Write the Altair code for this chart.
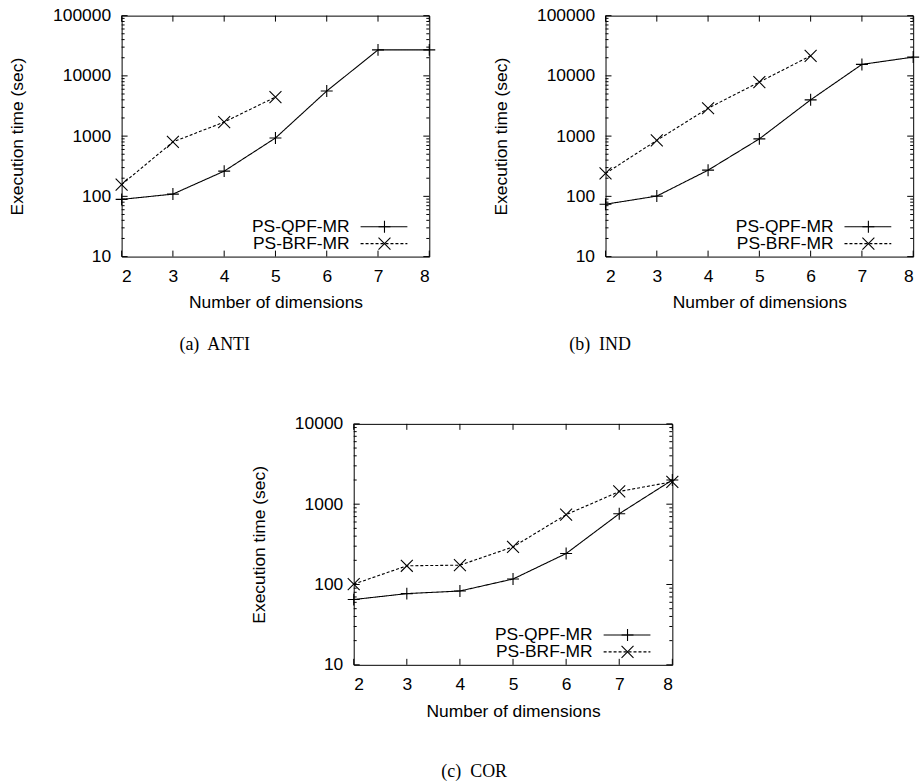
import altair as alt
import pandas as pd

dims = [2, 3, 4, 5, 6, 7, 8]
series_names = ["PS-QPF-MR", "PS-BRF-MR"]

anti_qpf = [89, 109, 262, 930, 5600, 27000, 27000]
anti_brf = [157, 800, 1710, 4450]
ind_qpf = [74, 101, 272, 900, 4000, 15500, 20500]
ind_brf = [240, 850, 2900, 7900, 21500]
cor_qpf = [65, 77, 83, 117, 243, 760, 2000]
cor_brf = [101, 171, 174, 294, 740, 1440, 1900]

captions = ["(a)\u00a0 ANTI", "(b)\u00a0 IND", "(c)\u00a0 COR"]
x_title = "Number of dimensions"
y_title = "Execution time (sec)"

SANS = "Liberation Sans"
SERIF = "Liberation Serif"
FS = 17.5

PLUS = "M-1,0L1,0M0,-1L0,1"
CROSS = "M-1,-1L1,1M-1,1L1,-1"
DASH = [3, 2]


def panel(qpf, brf, ymax, W, H, caption, cap_dx, cap_off):
    rows = []
    for d, v in zip(dims, qpf):
        rows.append({"dim": d, "time": v, "series": series_names[0]})
    for d, v in zip(dims, brf):
        rows.append({"dim": d, "time": v, "series": series_names[1]})
    df = pd.DataFrame(rows)

    decades = []
    v = 10
    while v <= ymax:
        decades.append(v)
        v *= 10
    minors = [m * d for d in decades[:-1] for m in range(2, 10)]

    xs = alt.Scale(domain=[2, 8], nice=False, zero=False)
    ys = alt.Scale(type="log", domain=[10, ymax], nice=False)

    X = alt.X("dim:Q", scale=xs, axis=alt.Axis(
        values=dims, format="d", title=x_title, grid=False, ticks=False,
        domain=False, labelPadding=11, titlePadding=9,
        labelFont=SANS, labelFontSize=FS, labelColor="black",
        titleFont=SANS, titleFontSize=FS, titleFontWeight="normal",
        titleColor="black"))
    Y = alt.Y("time:Q", scale=ys, axis=alt.Axis(
        values=decades, format="d", title=y_title, grid=False, ticks=False,
        domain=False, labelPadding=11, titlePadding=26,
        labelFont=SANS, labelFontSize=FS, labelColor="black",
        titleFont=SANS, titleFontSize=FS, titleFontWeight="normal",
        titleColor="black"))
    Xs = alt.X("dim:Q", scale=xs)
    Ys = alt.Y("time:Q", scale=ys)

    base = alt.Chart(df)
    lines = base.mark_line(color="black", strokeWidth=1.1).encode(
        x=X, y=Y,
        strokeDash=alt.StrokeDash("series:N", scale=alt.Scale(
            domain=series_names, range=[[1, 0], DASH]), legend=None),
        detail="series:N")
    pts = base.mark_point(filled=False, color="black", strokeWidth=1.1,
                          size=144, opacity=1, clip=False).encode(
        x=Xs, y=Ys,
        shape=alt.Shape("series:N", scale=alt.Scale(
            domain=series_names, range=[PLUS, CROSS]), legend=None))

    ymaj = pd.DataFrame({"time": decades})
    ymin = pd.DataFrame({"time": minors})
    xmaj = pd.DataFrame({"dim": dims})
    tick_layers = []
    for data, ln in ((ymaj, 6), (ymin, 3)):
        tick_layers.append(alt.Chart(data).mark_rule(color="black", strokeWidth=1).encode(
            y=Ys, x=alt.value(0), x2=alt.value(ln)))
        tick_layers.append(alt.Chart(data).mark_rule(color="black", strokeWidth=1).encode(
            y=Ys, x=alt.value(W - ln), x2=alt.value(W)))
    tick_layers.append(alt.Chart(xmaj).mark_rule(color="black", strokeWidth=1).encode(
        x=Xs, y=alt.value(H - 6), y2=alt.value(H)))
    tick_layers.append(alt.Chart(xmaj).mark_rule(color="black", strokeWidth=1).encode(
        x=Xs, y=alt.value(0), y2=alt.value(6)))

    leg_layers = []
    row_y = [H - 30, H - 13]
    for i, name in enumerate(series_names):
        ld = pd.DataFrame({"label": [name]})
        leg_layers.append(alt.Chart(ld).mark_text(
            align="right", baseline="middle", font=SANS, fontSize=FS,
            color="black").encode(
            x=alt.value(W - 80), y=alt.value(row_y[i]), text="label:N"))
        leg_layers.append(alt.Chart(ld).mark_rule(
            color="black", strokeWidth=1.1,
            strokeDash=[1, 0] if i == 0 else DASH).encode(
            x=alt.value(W - 69), x2=alt.value(W - 22), y=alt.value(row_y[i])))
        leg_layers.append(alt.Chart(ld).mark_point(
            shape=PLUS if i == 0 else CROSS, filled=False, color="black",
            strokeWidth=1.1, size=144, opacity=1).encode(
            x=alt.value(W - 45), y=alt.value(row_y[i])))

    ch = alt.layer(lines, pts, *tick_layers, *leg_layers).properties(
        width=W, height=H,
        title=alt.TitleParams(caption, orient="bottom", anchor="middle",
                              font=SERIF, fontSize=18, fontWeight="normal",
                              color="black", offset=cap_off, dx=cap_dx))
    return ch


a = panel(anti_qpf, anti_brf, 100000, 309, 242, captions[0], -61, 25)
b = panel(ind_qpf, ind_brf, 100000, 309, 242, captions[1], -160, 25)
c = panel(cor_qpf, cor_brf, 10000, 320, 242, captions[2], -39, 44)

spacer = alt.Chart(pd.DataFrame({"e": [0]})).mark_point(opacity=0).encode(
    x=alt.value(0), y=alt.value(0)
).properties(width=4, height=10, view=alt.ViewBackground(stroke="transparent"))

top = alt.hconcat(a, b, spacing=54)
bottom = alt.hconcat(c, spacer, spacing=0)
chart = alt.vconcat(top, bottom, spacing=59, center=True).properties(
    padding={"left": 8, "top": 4, "right": 0, "bottom": 0},
    background="white"
).configure_view(stroke="black", strokeWidth=1)

chart.save("out.html", embed_options={"renderer": "svg", "actions": False})
